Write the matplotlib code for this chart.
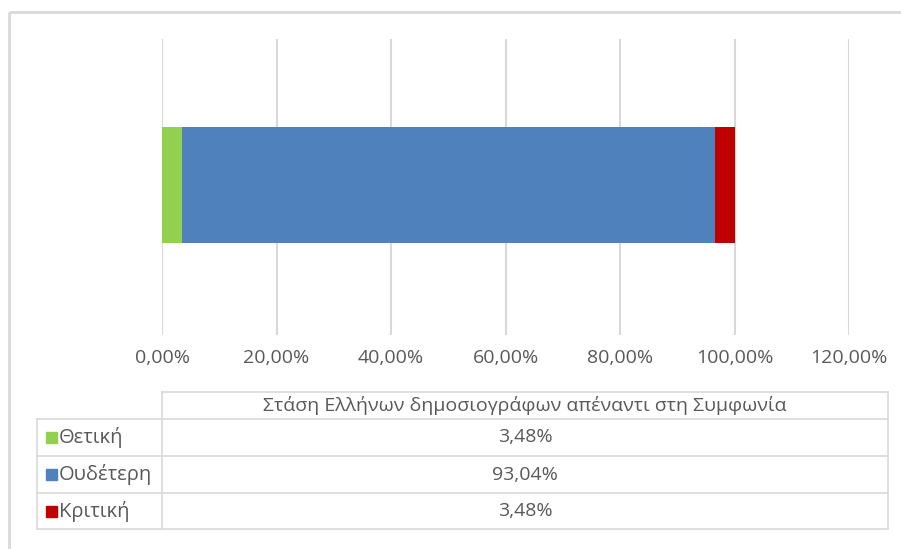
import matplotlib
matplotlib.use("Agg")
import matplotlib.pyplot as plt
from matplotlib.patches import Rectangle
import numpy as np

plt.rcParams['font.family'] = ['Open Sans', 'DejaVu Sans']

series_title = "Στάση Ελλήνων δημοσιογράφων απέναντι στη Συμφωνία"
categories = ["Θετική", "Ουδέτερη", "Κριτική"]
values = [3.48, 93.04, 3.48]
colors = ["#92D050", "#4F81BD", "#C00000"]
xticks = [0, 20, 40, 60, 80, 100, 120]

W, H = 901, 549
fig = plt.figure(figsize=(W / 100, H / 100), dpi=100)
fig.patch.set_facecolor("white")

def fx(px):
    return px / W

def fy(py):
    return 1 - py / H

text_color = "#595959"
grid_color = "#D9D9D9"

# main bar axes
left_px, right_px, top_px, bot_px = 162, 849, 39, 335
ax = fig.add_axes([fx(left_px), fy(bot_px), fx(right_px - left_px), (bot_px - top_px) / H])
ax.set_xlim(0, 120)
ax.set_ylim(-0.507, 0.493)
cum = 0
for v, c in zip(values, colors):
    ax.barh(0.0, v, left=cum, height=0.392, color=c, edgecolor="none", zorder=3)
    cum += v
ax.set_xticks(xticks)
ax.grid(axis="x", color=grid_color, linewidth=1.5, zorder=0)
ax.set_yticks([])
for s in ax.spines.values():
    s.set_visible(False)
ax.tick_params(axis="x", length=0, labelbottom=False)

# overlay in pixel coords
ov = fig.add_axes([0, 0, 1, 1], zorder=5)
ov.set_xlim(0, W)
ov.set_ylim(H, 0)
ov.axis("off")
ov.patch.set_alpha(0)

# outer frame
ov.plot([9, W], [12, 12], color=grid_color, lw=2, solid_capstyle="butt")
ov.plot([9, 9], [12, H], color=grid_color, lw=2, solid_capstyle="butt")

fs = 14
# tick labels
for t in xticks:
    xp = left_px + (right_px - left_px) * t / 120
    ov.text(xp, 358, f"{t:.2f}%".replace(".", ","), ha="center", va="center",
            fontsize=fs, color=text_color)

# data table
tc = grid_color
lw = 1.2
col0, col1, col2 = 37, 162, 888
rows = [392, 419, 456, 493, 529]
ov.plot([col1, col2], [rows[0], rows[0]], color=tc, lw=lw)
for r in rows[1:]:
    ov.plot([col0, col2], [r, r], color=tc, lw=lw)
ov.plot([col1, col1], [rows[0], rows[-1]], color=tc, lw=lw)
ov.plot([col2, col2], [rows[0], rows[-1]], color=tc, lw=lw)
ov.plot([col0, col0], [rows[1], rows[-1]], color=tc, lw=lw)

ov.text((col1 + col2) / 2, (rows[0] + rows[1]) / 2, series_title, ha="center",
        va="center", fontsize=fs, color=text_color)
for i, (cat, v, c) in enumerate(zip(categories, values, colors)):
    yc = (rows[i + 1] + rows[i + 2]) / 2
    ov.add_patch(Rectangle((46, yc - 5.5), 11, 11, color=c))
    ov.text(59, yc, cat, ha="left", va="center", fontsize=14.5, color=text_color)
    ov.text((col1 + col2) / 2, yc, f"{v:.2f}%".replace(".", ","), ha="center",
            va="center", fontsize=fs, color=text_color)

fig.savefig("out.png", dpi=100)
